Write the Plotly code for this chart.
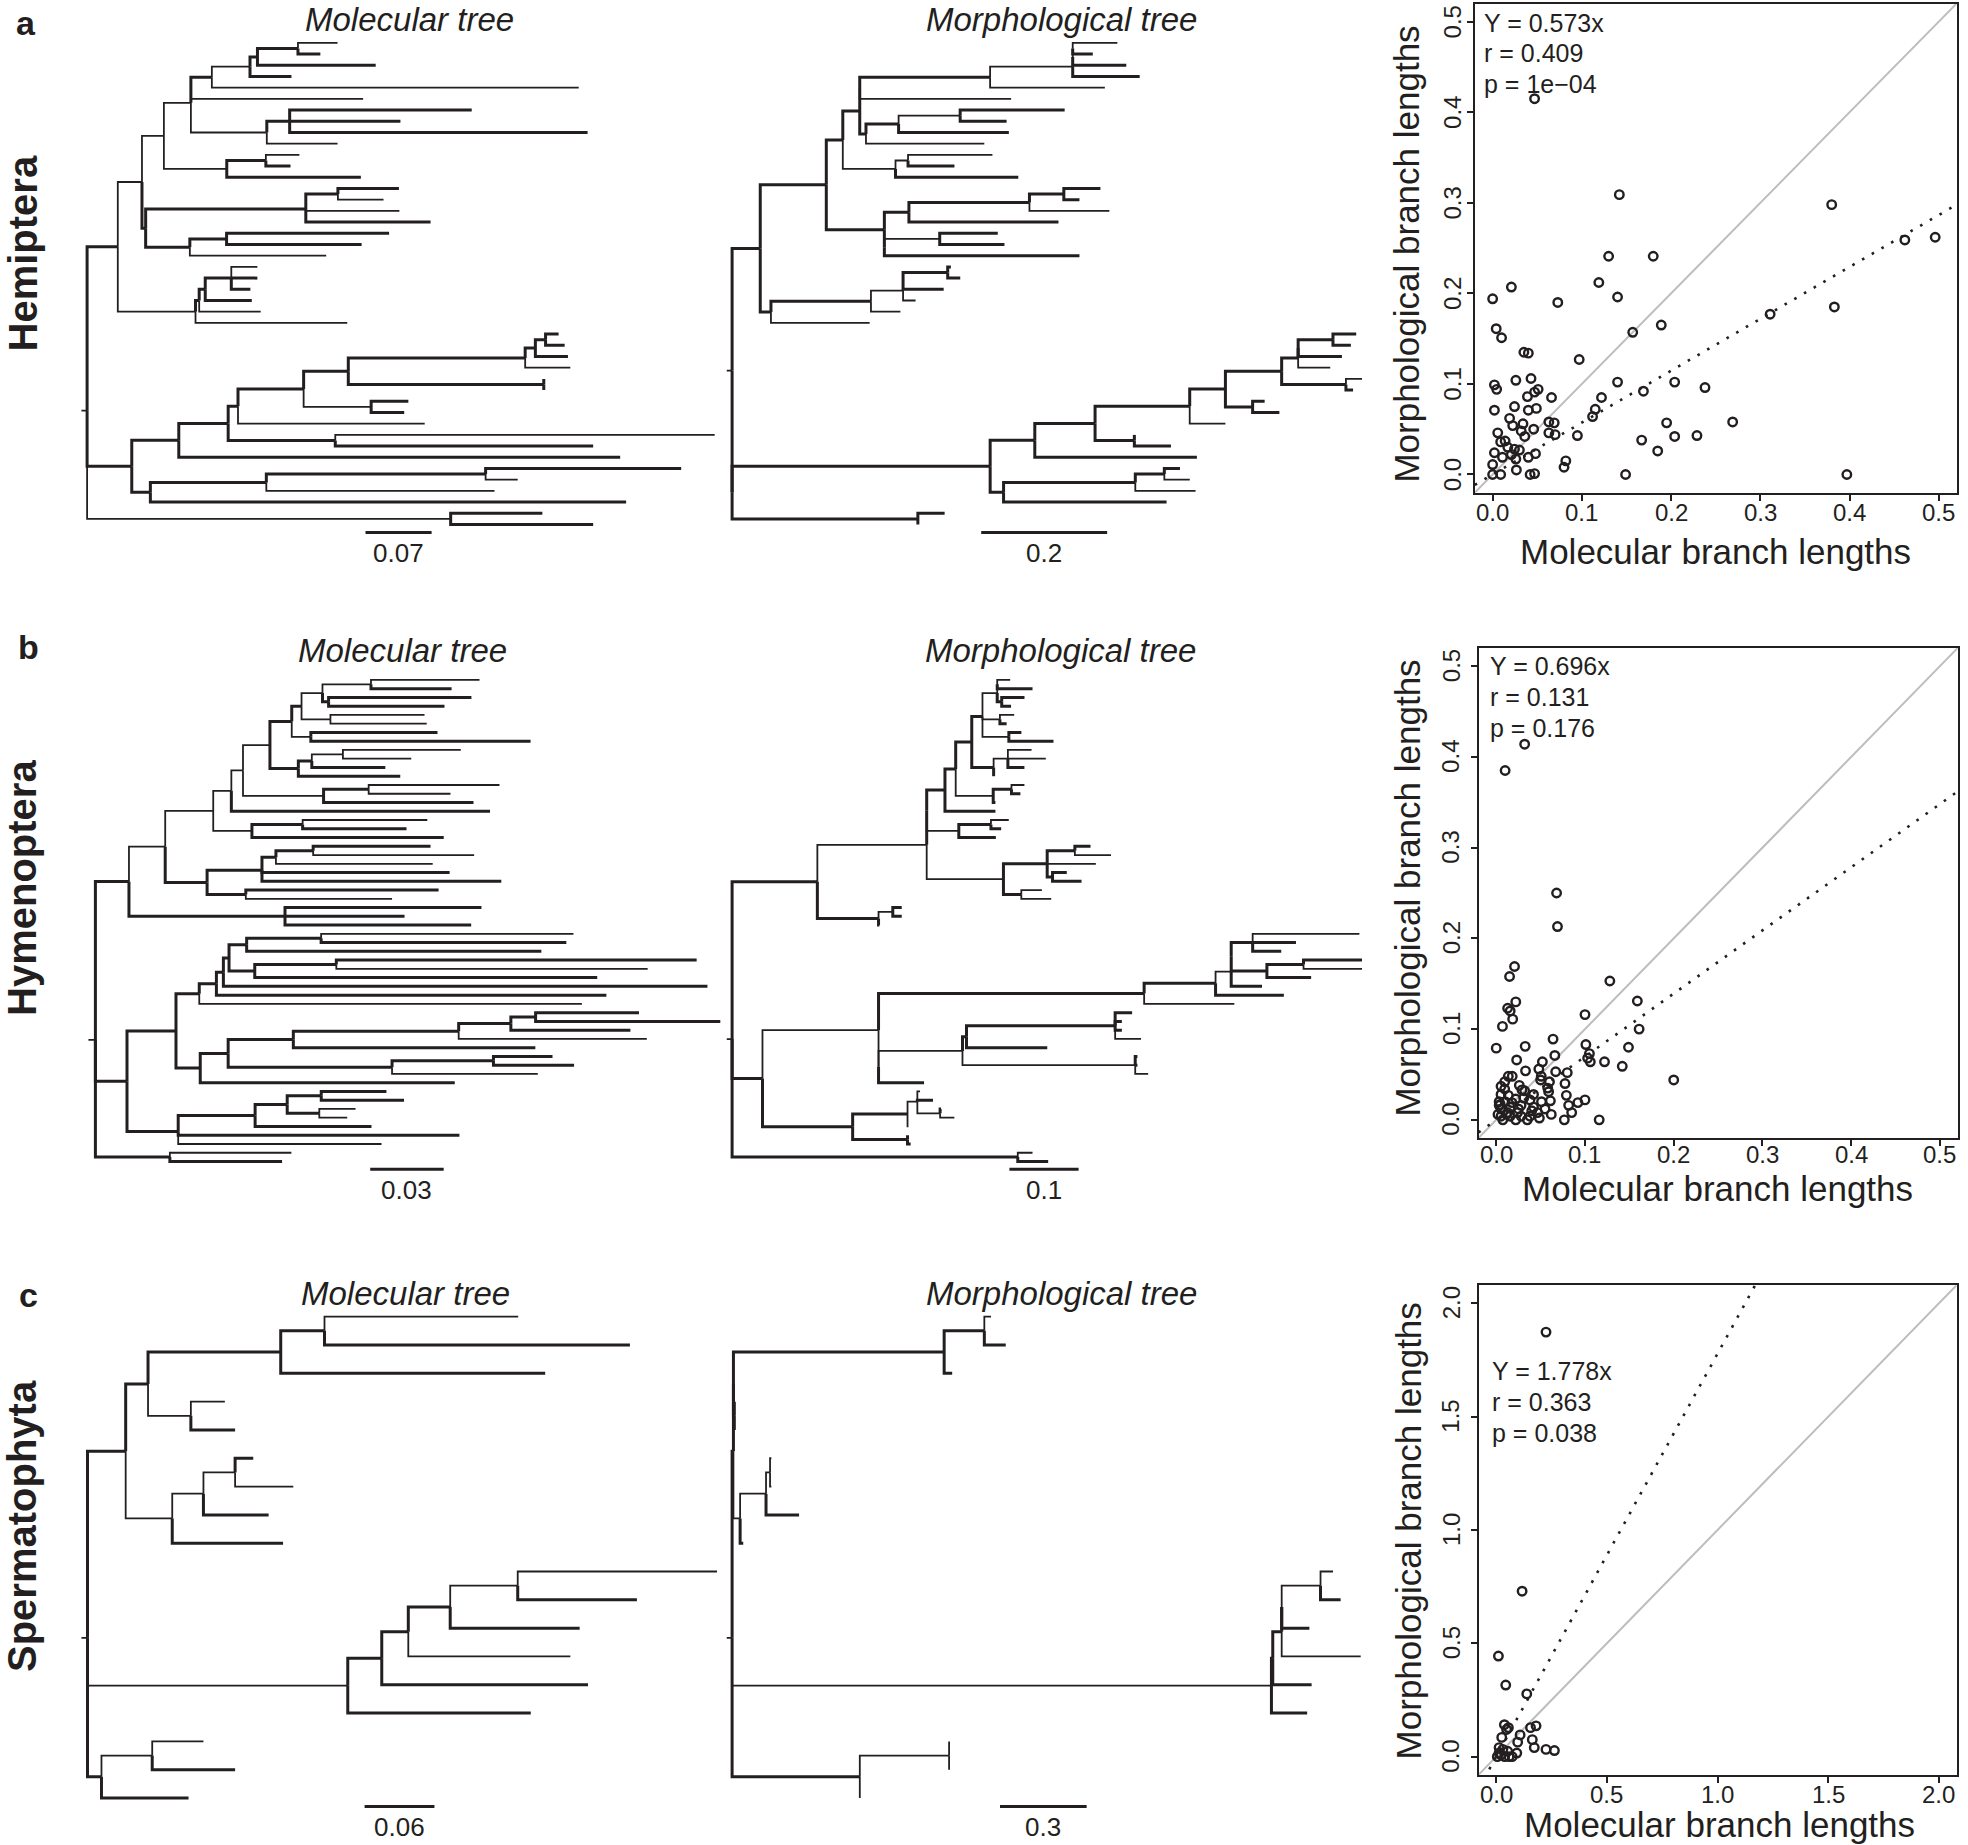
import plotly.graph_objects as go

W, H = 1968, 1845
FONT = "Liberation Sans, Arial, Helvetica, sans-serif"
INK = "#231f20"

# ------------------------------------------------------------------
# Tree data: (parent, child, branch length in 0.001 units, thick flag)
# child None = tip.  Children are listed in drawing order (top to bottom).
# ------------------------------------------------------------------
A_MOL_ROOT_EDGE = 6
A_MOL = [
    ("R", "A", 32.5, 1), ("R", "B", 47.3, 1), ("R", "C", 385, 0),
    ("A", "A1", 25.6, 0), ("A", "A2", 82.3, 0),
    ("A1", "A1a", 23.2, 0), ("A1", "A1b", 3.9, 1),
    ("A1a", "n410", 28.6, 0), ("A1a", "n487a", 66.6, 0),
    ("n410", "n455", 22.2, 1), ("n410", None, 182.4, 0), ("n410", "n573", 80.4, 0),
    ("n455", "n537", 40.4, 0), ("n455", None, 388.5, 0),
    ("n537", "n553", 7.9, 1), ("n537", None, 43.9, 1),
    ("n553", "n640", 42.9, 1), ("n553", None, 125.2, 1),
    ("n640", None, 41.9, 0), ("n640", None, 23.7, 1),
    ("n573", "n622", 24.2, 1), ("n573", None, 74.9, 0),
    ("n622", None, 192.8, 1), ("n622", None, 117.3, 1), ("n622", None, 315.5, 1),
    ("n487a", "n571", 41.4, 1), ("n487a", None, 142, 1),
    ("n571", None, 35.5, 0), ("n571", None, 26.1, 1),
    ("A1b", "n657", 169.6, 1), ("A1b", "n408", 46.8, 1),
    ("n657", "n726", 34, 1), ("n657", None, 99.1, 0), ("n657", None, 132.1, 1),
    ("n726", None, 64.6, 1), ("n726", None, 48.3, 0),
    ("n408", "n487b", 38.9, 1), ("n408", None, 144.4, 0),
    ("n487b", None, 172.1, 1), ("n487b", None, 143, 1),
    ("A2", "n428", 3.9, 1), ("A2", None, 160.7, 0),
    ("n428", "n441", 6.4, 1), ("n428", None, 65.1, 0),
    ("n441", "n497", 27.6, 1), ("n441", None, 49.3, 1),
    ("n497", None, 27.6, 0), ("n497", None, 27.6, 1), ("n497", None, 20.2, 1),
    ("B", "n384", 49.8, 1), ("B", "n323", 19.7, 1),
    ("n384", "n490", 52.3, 1), ("n384", None, 467.4, 1),
    ("n490", "n511", 10.4, 1), ("n490", "n720", 113.4, 1),
    ("n511", "n652", 69.5, 1), ("n511", None, 197.7, 0),
    ("n652", "n748", 47.3, 1), ("n652", "n797", 71.5, 0),
    ("n748", "n1128", 187.3, 1), ("n748", "n1168", 207, 1),
    ("n1128", "n1150", 10.8, 1), ("n1128", None, 47.8, 0),
    ("n1150", "n1172", 10.8, 1), ("n1150", None, 34.5, 1),
    ("n1172", None, 13.8, 1), ("n1172", None, 20.2, 1),
    ("n1168", None, 0, 1), ("n1168", None, 0, 1),
    ("n797", None, 39.4, 1), ("n797", None, 35, 1),
    ("n720", None, 401.8, 0), ("n720", None, 273.1, 1),
    ("n323", "n572", 122.8, 1), ("n323", None, 503.8, 1),
    ("n572", "n1043", 232.2, 1), ("n572", None, 241.6, 0),
    ("n1043", None, 207.1, 1), ("n1043", None, 34, 0),
    ("C", None, 97.1, 1), ("C", None, 150.9, 1),
]

A_MOR_ROOT_EDGE = 8.5
A_MOR = [
    ("R", "U", 44.7, 1), ("R", "Rin", 0, 1),
    ("U", "n283", 104.9, 1), ("U", "n159", 17, 1),
    ("n283", "n320", 26.2, 1), ("n283", "n413", 92.2, 1),
    ("n320", "n358", 26.9, 1), ("n320", "n438", 83.7, 0),
    ("n358", "in1", 0, 1), ("n358", "n372", 9.9, 1),
    ("in1", "n650", 207, 1), ("in1", None, 240.4, 0),
    ("n650", "i835a", 131.2, 0), ("n650", None, 182.2, 0),
    ("i835a", "i835b", 0, 0), ("i835a", None, 106.4, 1),
    ("i835b", "i835c", 0, 0), ("i835b", None, 85.1, 1),
    ("i835c", None, 70.9, 0), ("i835c", None, 31.9, 1),
    ("n372", "n445", 51.8, 1), ("n372", None, 187.9, 0),
    ("n445", "n583", 97.8, 0), ("n445", None, 175.1, 1),
    ("n583", None, 165.9, 1), ("n583", None, 73.7, 1),
    ("n438", "n466", 19.9, 0), ("n438", None, 195, 1),
    ("n466", None, 134, 0), ("n466", None, 73.7, 1),
    ("n413", "n468", 39, 1), ("n413", "in2", 0, 1),
    ("n468", "n738", 191.4, 1), ("n468", None, 237.5, 1),
    ("n738", "n815", 54.6, 1), ("n738", None, 126.9, 0),
    ("n815", None, 58.1, 1), ("n815", None, 24.8, 1),
    ("in2", "n537", 87.9, 0), ("in2", None, 309.8, 1),
    ("n537", None, 92.2, 1), ("n537", None, 102.8, 1),
    ("n159", "n383", 158.8, 1), ("n159", None, 156.7, 0),
    ("n383", "n455", 51, 0), ("n383", None, 46.8, 0),
    ("n455", "in3", 0, 0), ("n455", None, 19.9, 0),
    ("in3", "n555", 70.9, 1), ("in3", None, 64.5, 1),
    ("n555", None, 5, 1), ("n555", None, 19.9, 1),
    ("Rin", "n650b", 409.8, 1), ("Rin", "n488", 295, 1),
    ("n650b", "n750", 70.9, 1), ("n650b", "n680", 21.3, 1),
    ("n750", "n885", 95.7, 1), ("n750", None, 257.4, 1),
    ("n885", "n1097", 150.3, 1), ("n885", "n973", 62.4, 1),
    ("n1097", "n1177", 56.7, 1), ("n1097", None, 56.7, 0),
    ("n1177", "n1303", 89.3, 1), ("n1177", "n1238", 43.2, 1),
    ("n1303", "n1340", 26.2, 1), ("n1303", "n1447", 102.1, 1),
    ("n1340", "in4", 0, 1), ("n1340", None, 51, 0),
    ("in4", "n1418", 55.3, 1), ("in4", None, 69.5, 1),
    ("n1418", None, 36.9, 1), ("n1418", None, 28.4, 1),
    ("n1447", None, 25.5, 0), ("n1447", None, 11.3, 1),
    ("n1238", None, 19.1, 1), ("n1238", None, 42.5, 1),
    ("n973", None, 0, 1), ("n973", None, 58.1, 1),
    ("n680", "n975", 209.2, 1), ("n680", None, 258.8, 1),
    ("n975", "n1040", 46.1, 1), ("n975", None, 95.7, 0),
    ("n1040", None, 24.8, 1), ("n1040", None, 40.4, 0),
    ("n488", None, 42.5, 1), ("n488", None, 0, 1),
]

B_MOL_ROOT_EDGE = 2.85
B_MOL = [
    ("R", "n277", 13.7, 1), ("R", "n273", 12.9, 1), ("R", "n365", 30.4, 1),
    ("n277", "n355", 14.8, 0), ("n277", "n612", 63.7, 1),
    ("n355", "n458", 19.6, 0), ("n355", "n445", 17.1, 1),
    ("n458", "n497", 7.4, 0), ("n458", "n541", 15.8, 0),
    ("n497", "n522", 4.75, 0), ("n497", None, 105.6, 1),
    ("n522", "n580", 11, 0), ("n522", "n695", 32.9, 0),
    ("n580", "n627", 8.9, 1), ("n580", "n641", 11.6, 1),
    ("n627", "n648", 4, 1), ("n627", "n668", 7.8, 0),
    ("n648", "n693", 8.55, 0), ("n648", "n710", 11.8, 0),
    ("n693", "n797", 19.8, 0), ("n693", "n706", 2.5, 1),
    ("n797", None, 44.3, 0), ("n797", None, 32.9, 1),
    ("n706", None, 58.3, 1), ("n706", None, 47.3, 1),
    ("n710", None, 38.4, 0), ("n710", None, 39.3, 0),
    ("n668", None, 51.7, 1), ("n668", None, 89.7, 1),
    ("n641", "n670", 5.5, 1), ("n641", None, 41.6, 1),
    ("n670", "n737", 12.7, 0), ("n670", None, 30, 1),
    ("n737", None, 48.1, 0), ("n737", None, 27.9, 0),
    ("n695", "n792", 18.4, 1), ("n695", None, 61.2, 1),
    ("n792", None, 53.4, 0), ("n792", None, 33.4, 0),
    ("n541", "n650", 20.7, 1), ("n541", None, 78.3, 1),
    ("n650", None, 50.9, 0), ("n650", None, 42.4, 1),
    ("n445", "n563", 22.4, 1), ("n445", "n528", 15.8, 1),
    ("n563", "n593", 5.7, 1), ("n563", None, 76.6, 1), ("n563", None, 97.7, 1),
    ("n593", "n673", 15.2, 1), ("n593", None, 64, 0),
    ("n673", None, 47.9, 1), ("n673", None, 65.7, 0),
    ("n528", None, 78.7, 1), ("n528", None, 59.7, 0),
    ("n612", None, 80.2, 1), ("n612", None, 48.8, 1), ("n612", None, 76, 1),
    ("n273", "n378", 20, 1), ("n273", "n383", 20.9, 1),
    ("n378", "n428", 9.5, 1), ("n378", "n430", 9.9, 1),
    ("n428", "n465", 7, 1), ("n428", None, 156.2, 0),
    ("n465", "n480", 2.85, 1), ("n465", None, 159.2, 1),
    ("n480", "n492", 2.3, 1), ("n480", None, 197.6, 1),
    ("n492", "n530", 7.2, 1), ("n492", "n547", 10.5, 1),
    ("n530", "n690", 30.4, 1), ("n530", None, 120.3, 1),
    ("n690", None, 103, 0), ("n690", None, 100.1, 1),
    ("n547", "n722", 33.3, 1), ("n547", None, 139.8, 1),
    ("n722", None, 147.1, 1), ("n722", None, 127.1, 0),
    ("n430", "n490", 11.4, 1), ("n430", None, 103.9, 1),
    ("n490", "n630", 26.6, 1), ("n490", "n842", 66.9, 1),
    ("n630", "n985", 67.5, 1), ("n630", None, 98.8, 1),
    ("n985", "n1097", 21.3, 1), ("n985", None, 76.8, 0),
    ("n1097", "n1150", 10.1, 1), ("n1097", None, 48.8, 1),
    ("n1150", None, 42.2, 1), ("n1150", None, 75.4, 1),
    ("n842", "n1060", 41.4, 1), ("n842", None, 59.5, 0),
    ("n1060", None, 24.1, 1), ("n1060", None, 32.9, 1),
    ("n383", "n548", 31.4, 1), ("n383", None, 114.8, 1), ("n383", None, 83, 0),
    ("n548", "n617", 13.1, 1), ("n548", None, 47.5, 1),
    ("n617", "n690b", 13.9, 1), ("n617", "n686", 13.1, 1),
    ("n690b", None, 26.6, 1), ("n690b", None, 33.8, 1),
    ("n686", None, 14.8, 0), ("n686", None, 11.4, 0),
    ("n365", None, 49.6, 0), ("n365", None, 45.8, 1),
]

B_MOR_ROOT_EDGE = 7.7
B_MOR = [
    ("R", "n263", 123.2, 1), ("R", "n140", 43.9, 1), ("R", "n712", 412.8, 1),
    ("n263", "n508", 158, 0), ("n263", "n400", 88.4, 1),
    ("n508", "in1", 0, 1), ("n508", "n680", 110.9, 0),
    ("in1", "n549", 26.4, 1), ("in1", "n580", 46.4, 0),
    ("n549", "n573", 15.5, 1), ("n549", None, 72.9, 1),
    ("n573", "n609", 23.2, 1), ("n573", "n657", 54.2, 0),
    ("n609", "n633", 15.5, 1), ("n609", "n658", 31.6, 1),
    ("n633", "n666", 21.3, 0), ("n633", "n672", 25.2, 0), ("n633", "n692", 38.1, 0),
    ("n666", "in666", 0, 0), ("n666", "n676", 6.5, 1),
    ("in666", None, 18.7, 0), ("in666", None, 51, 1),
    ("n676", None, 32.9, 1), ("n676", None, 13.5, 1),
    ("n672", None, 20.6, 0), ("n672", None, 9.7, 1),
    ("n692", None, 18.1, 1), ("n692", None, 64.5, 1),
    ("n658", "n690", 20.6, 0), ("n658", None, 0, 1),
    ("n690", None, 34.2, 0), ("n690", None, 54.8, 0), ("n690", None, 23.9, 1),
    ("n657", "n698", 26.4, 1), ("n657", None, 3.2, 1),
    ("n698", None, 18.7, 0), ("n698", None, 12.9, 1),
    ("n580", "n652", 46.4, 1), ("n580", None, 53.5, 1),
    ("n652", None, 25.8, 0), ("n652", None, 14.8, 1),
    ("n680", "n778", 63.2, 1), ("n680", "n720", 25.8, 1),
    ("n778", "n840", 40, 1), ("n778", None, 70.3, 0), ("n778", "n790", 7.7, 1),
    ("n840", None, 22.6, 1), ("n840", None, 52.2, 0),
    ("n790", None, 20.6, 1), ("n790", None, 41.9, 1),
    ("n720", None, 29.7, 0), ("n720", None, 43.2, 0),
    ("n400", "n432", 20.6, 0), ("n400", None, 1.3, 1),
    ("n432", None, 12.9, 1), ("n432", None, 12.9, 1),
    ("n140", "n400b", 167.7, 0), ("n140", "n342", 130.3, 1),
    ("n400b", "n995", 383.8, 1), ("n400b", "in2", 0, 0),
    ("n995", "n1155", 103.2, 1), ("n995", None, 130.3, 0),
    ("n1155", "n1190", 22.6, 0), ("n1155", None, 98.7, 1),
    ("n1190", "in3", 0, 0), ("n1190", None, 44.5, 1),
    ("in3", "n1238", 31, 1), ("in3", "n1270", 51.6, 1),
    ("n1238", None, 154.2, 0), ("n1238", None, 62.6, 1), ("n1238", None, 41.3, 1),
    ("n1270", "n1352", 52.9, 1), ("n1270", None, 63.9, 1),
    ("n1352", None, 84.5, 1), ("n1352", None, 84.5, 0),
    ("in2", "n588", 121.3, 0), ("in2", None, 65.8, 1),
    ("n588", "n597", 5.8, 1), ("n588", "n975", 249.6, 0),
    ("n597", "n930", 214.8, 1), ("n597", None, 116.7, 1),
    ("n930", None, 24.5, 1), ("n930", None, 9.7, 1), ("n930", None, 9.7, 1), ("n930", None, 37.4, 0),
    ("n975", None, 3.2, 1), ("n975", None, 3.2, 1), ("n975", None, 18.7, 0),
    ("n342", "n465", 79.3, 1), ("n342", "n465b", 79.3, 1),
    ("n465", "n487", 14.2, 0), ("n465", None, 1.3, 0),
    ("n487", None, 3.9, 0), ("n487", None, 22.6, 1), ("n487", "n538", 32.9, 0),
    ("n538", None, 1.3, 1), ("n538", None, 20.6, 0),
    ("n465b", None, 0, 1), ("n465b", None, 4.5, 1),
    ("n712", None, 21.3, 0), ("n712", None, 43.9, 1),
]

C_MOL_ROOT_EDGE = 5.2
C_MOL = [
    ("R", "n270", 32.8, 1), ("R", "n747", 223.6, 0), ("R", "n218", 12, 1),
    ("n270", "n318", 19.2, 1), ("n270", "n370", 40, 0),
    ("n318", "n603", 114, 1), ("n318", "n410", 36.8, 0),
    ("n603", "n697", 37.6, 1), ("n603", None, 227.2, 1),
    ("n697", None, 166.4, 0), ("n697", None, 262.4, 1),
    ("n410", None, 29.2, 0), ("n410", None, 38, 1),
    ("n370", "n437", 26.8, 0), ("n370", None, 95.2, 1),
    ("n437", "n505", 27.2, 0), ("n437", None, 56, 1),
    ("n505", None, 15.6, 1), ("n505", None, 50, 0),
    ("n747", "n820", 29.2, 1), ("n747", None, 157.2, 1),
    ("n820", "n877", 22.8, 1), ("n820", None, 177.2, 1),
    ("n877", "n967", 36, 1), ("n877", None, 139.2, 0),
    ("n967", "n1112", 58, 0), ("n967", None, 111.2, 1),
    ("n1112", None, 171.2, 0), ("n1112", None, 102.4, 1),
    ("n218", "n327", 43.6, 0), ("n218", None, 74.8, 1),
    ("n327", None, 44, 0), ("n327", None, 71.2, 1),
]

C_MOR_ROOT_EDGE = 18.6
C_MOR = [
    ("R", "n270", 4.6, 1), ("R", "n747", 1867.6, 0), ("R", "n218", 442.2, 1),
    ("n270", "n318", 0, 1), ("n270", "n370", 23.2, 0),
    ("n318", "n547", 729.7, 1), ("n318", "n410", 3.1, 1),
    ("n547", "n637", 139.1, 1), ("n547", None, 27.8, 1),
    ("n637", None, 23.2, 0), ("n637", None, 74.2, 1),
    ("n410", None, 0, 1), ("n410", None, 0, 1),
    ("n370", "n148", 89.7, 0), ("n370", None, 10.8, 1),
    ("n148", "n157", 13.9, 0), ("n148", None, 114.4, 1),
    ("n157", None, 4.6, 0), ("n157", None, 4.6, 0),
    ("n747", "n820", 4.6, 1), ("n747", None, 123.7, 1),
    ("n820", "n877", 30.9, 1), ("n820", None, 134.5, 1),
    ("n877", "n967", 0, 1), ("n877", None, 273.6, 0),
    ("n967", "n1112", 134.5, 0), ("n967", None, 95.9, 1),
    ("n1112", None, 43.3, 0), ("n1112", None, 69.6, 1),
    ("n218", "n327", 309.2, 0), ("n218", None, 0, 0),
    ("n327", None, 0, 0), ("n327", None, 0, 0),
]

SCALE_BARS = [0.07, 0.2, 0.03, 0.1, 0.06, 0.3]
SCALE_LABELS = ["0.07", "0.2", "0.03", "0.1", "0.06", "0.3"]

# ------------------------------------------------------------------
# Scatter data (molecular vs morphological branch lengths)
# ------------------------------------------------------------------
SA_X = [0.047, 0.142, 0.380, 0.462, 0.496, 0.130, 0.180, 0.119, 0.021, 0.000,
        0.073, 0.140, 0.383, 0.189, 0.311, 0.157, 0.004, 0.010, 0.035, 0.040,
        0.097, 0.002, 0.0045, 0.026, 0.043, 0.051, 0.047, 0.039, 0.066, 0.140,
        0.204, 0.238, 0.169, 0.122, 0.002, 0.0245, 0.040, 0.049, 0.019, 0.115,
        0.112, 0.063, 0.069, 0.269, 0.195, 0.0225, 0.034, 0.0057, 0.032, 0.046,
        0.063, 0.070, 0.095, 0.204, 0.229, 0.167, 0.009, 0.014, 0.036, 0.002,
        0.017, 0.0245, 0.030, 0.048, 0.185, 0.026, 0.040, 0.011, 0.082, 0.080,
        0.000, 0.000, 0.009, 0.0266, 0.042, 0.047, 0.149, 0.397, 0.021]
SA_Y = [0.415, 0.309, 0.298, 0.259, 0.262, 0.241, 0.241, 0.212, 0.207, 0.194,
        0.190, 0.196, 0.185, 0.165, 0.177, 0.157, 0.161, 0.151, 0.135, 0.134,
        0.127, 0.099, 0.094, 0.104, 0.106, 0.094, 0.091, 0.086, 0.085, 0.102,
        0.102, 0.096, 0.092, 0.085, 0.071, 0.075, 0.071, 0.073, 0.062, 0.072,
        0.064, 0.058, 0.057, 0.058, 0.057, 0.054, 0.056, 0.046, 0.048, 0.050,
        0.046, 0.044, 0.043, 0.042, 0.043, 0.038, 0.036, 0.037, 0.042, 0.024,
        0.030, 0.028, 0.027, 0.023, 0.026, 0.017, 0.019, 0.019, 0.015, 0.008,
        0.011, 0.000, 0.000, 0.005, 0.000, 0.001, 0.000, 0.000, 0.022]

SB_X = [0.032, 0.010, 0.068, 0.069, 0.0206, 0.015, 0.128, 0.022, 0.0128, 0.0157,
        0.0185, 0.007, 0.159, 0.100, 0.161, 0.000, 0.0326, 0.064, 0.101, 0.149,
        0.066, 0.105, 0.103, 0.106, 0.023, 0.052, 0.122, 0.142, 0.200, 0.033,
        0.048, 0.067, 0.080, 0.018, 0.0095, 0.050, 0.060, 0.0775, 0.029, 0.059,
        0.079, 0.0054, 0.0136, 0.0033, 0.022, 0.038, 0.051, 0.061, 0.100, 0.092,
        0.0054, 0.0157, 0.028, 0.042, 0.0816, 0.002, 0.0115, 0.024, 0.0466, 0.062,
        0.085, 0.0074, 0.022, 0.035, 0.0486, 0.0767, 0.116, 0.0045, 0.010, 0.031,
        0.042, 0.0095, 0.0054, 0.026, 0.0128, 0.040, 0.028, 0.0157, 0.055, 0.038,
        0.0033, 0.0177, 0.032, 0.0507, 0.0136, 0.058, 0.025, 0.0054]
SB_Y = [0.414, 0.385, 0.250, 0.213, 0.169, 0.158, 0.153, 0.130, 0.123, 0.120,
        0.111, 0.103, 0.131, 0.116, 0.100, 0.079, 0.081, 0.089, 0.083, 0.080,
        0.071, 0.073, 0.068, 0.064, 0.066, 0.064, 0.064, 0.059, 0.044, 0.054,
        0.056, 0.053, 0.052, 0.048, 0.042, 0.044, 0.042, 0.040, 0.033, 0.031,
        0.027, 0.028, 0.027, 0.020, 0.023, 0.022, 0.020, 0.021, 0.022, 0.019,
        0.012, 0.014, 0.016, 0.014, 0.016, 0.006, 0.006, 0.008, 0.008, 0.006,
        0.008, 0.000, 0.000, 0.000, 0.002, 0.000, 0.000, 0.017, 0.020, 0.024,
        0.028, 0.034, 0.037, 0.038, 0.008, 0.010, 0.004, 0.004, 0.012, 0.004,
        0.016, 0.019, 0.032, 0.048, 0.048, 0.035, 0.012, 0.004]

SC_X = [0.225, 0.117, 0.010, 0.043, 0.138, 0.037, 0.055, 0.155, 0.180, 0.108,
        0.025, 0.163, 0.097, 0.172, 0.225, 0.263, 0.093, 0.072, 0.013, 0.005,
        0.022, 0.038, 0.052, 0.030, 0.013, 0.058, 0.047]
SC_Y = [1.873, 0.730, 0.444, 0.316, 0.277, 0.141, 0.128, 0.128, 0.136, 0.096,
        0.085, 0.075, 0.064, 0.040, 0.032, 0.027, 0.016, 0.000, 0.040, 0.000,
        0.008, 0.000, 0.024, 0.032, 0.016, 0.000, 0.120]

SLOPES = [0.573, 0.696, 1.778]
STATS = [["Y = 0.573x", "r = 0.409", "p = 1e\u221204"],
         ["Y = 0.696x", "r = 0.131", "p = 0.176"],
         ["Y = 1.778x", "r = 0.363", "p = 0.038"]]
AX_TICKS_AB = [0.0, 0.1, 0.2, 0.3, 0.4, 0.5]
AX_TICKS_C = [0.0, 0.5, 1.0, 1.5, 2.0]
GROUPS = ["Hemiptera", "Hymenoptera", "Spermatophyta"]
LETTERS = ["a", "b", "c"]

# ------------------------------------------------------------------
UNIT = 0.001
THICK_W, THIN_W = 3.0, 1.8


def fx(px):
    return px / W


def fy(py):
    return 1 - py / H


def build_tree(edges, root_edge):
    def new():
        return {"kids": [], "len": 0.0, "thick": False}
    nodes = {"R": new()}
    nodes["R"]["len"] = root_edge * UNIT
    for parent, child, length, thick in edges:
        if parent not in nodes:
            nodes[parent] = new()
        p = nodes[parent]
        if child is None:
            c = new()
        else:
            if child not in nodes:
                nodes[child] = new()
            c = nodes[child]
        c["len"] = length * UNIT
        c["thick"] = bool(thick)
        p["kids"].append(c)
    return nodes["R"]


def layout(root):
    tips = []

    def walk(n, x):
        n["x"] = x
        if not n["kids"]:
            n["y"] = float(len(tips))
            tips.append(n)
        else:
            for k in n["kids"]:
                walk(k, x + k["len"])
            n["y"] = sum(k["y"] for k in n["kids"]) / len(n["kids"])
    walk(root, 0.0)
    return len(tips), max(t["x"] for t in tips)


fig = go.Figure()
annotations = []
layout_axes = {}


def ax_names(k):
    return ("xaxis" if k == 1 else f"xaxis{k}",
            "yaxis" if k == 1 else f"yaxis{k}",
            "x" if k == 1 else f"x{k}",
            "y" if k == 1 else f"y{k}")


def add_tree(k, edges, root_edge, geom, bar_len, bar_label, bar_geom):
    root = build_tree(edges, root_edge)
    ntip, depth = layout(root)
    x0, x1, y0, y1 = geom
    bar_start_px, bar_y_px, label_y_px = bar_geom
    upx = depth / (x1 - x0)
    tpx = (ntip - 1) / (y1 - y0)
    L, R, T, B = x0 - 24, x1 + 14, y0 - 14, bar_y_px + 14
    xa, ya, xr, yr = ax_names(k)
    layout_axes[xa] = dict(domain=[fx(L), fx(R)], range=[(L - x0) * upx, (R - x0) * upx],
                           visible=False, fixedrange=True, anchor=yr)
    layout_axes[ya] = dict(domain=[fy(B), fy(T)], range=[(B - y0) * tpx, (T - y0) * tpx],
                           visible=False, fixedrange=True, anchor=xr)
    segs = {True: ([], []), False: ([], [])}

    def walk(n):
        for c in n["kids"]:
            xs, ys = segs[c["thick"]]
            xs += [n["x"], n["x"], c["x"], None]
            ys += [n["y"], c["y"], c["y"], None]
            walk(c)
    walk(root)
    xs, ys = segs[False]
    xs += [-root["len"], 0.0, None]
    ys += [root["y"], root["y"], None]
    for thick, (xs, ys) in segs.items():
        fig.add_trace(go.Scatter(x=xs, y=ys, mode="lines", xaxis=xr, yaxis=yr,
                                 line=dict(color=INK, width=THICK_W if thick else THIN_W),
                                 hoverinfo="skip", showlegend=False))
    bx0 = (bar_start_px - x0) * upx
    by = (bar_y_px - y0) * tpx
    fig.add_trace(go.Scatter(x=[bx0, bx0 + bar_len], y=[by, by], mode="lines",
                             xaxis=xr, yaxis=yr, line=dict(color=INK, width=THICK_W),
                             hoverinfo="skip", showlegend=False))
    cx = bar_start_px + (bar_len / upx) / 2
    annotations.append(dict(text=bar_label, x=fx(cx), y=fy(label_y_px), xref="paper", yref="paper",
                            xanchor="center", yanchor="middle", showarrow=False,
                            font=dict(size=26, family=FONT, color=INK)))


def add_scatter(k, xs, ys, box, rng, ticks, slope, stats, stats_px, xt_px, yt_px, tick_px):
    L, R, T, B = box
    xa, ya, xr, yr = ax_names(k)
    common = dict(range=rng, tickvals=ticks, showticklabels=False,
                  ticks="outside", ticklen=6, tickwidth=1.5, tickcolor=INK,
                  showline=True, mirror=True, linecolor=INK, linewidth=1.8,
                  showgrid=False, zeroline=False, fixedrange=True)
    layout_axes[xa] = dict(domain=[fx(L), fx(R)], anchor=yr, **common)
    layout_axes[ya] = dict(domain=[fy(B), fy(T)], anchor=xr, **common)
    fig.add_trace(go.Scatter(x=rng, y=rng, mode="lines", xaxis=xr, yaxis=yr,
                             line=dict(color="#bdbdbd", width=2.0),
                             hoverinfo="skip", showlegend=False))
    fig.add_trace(go.Scatter(x=rng, y=[slope * rng[0], slope * rng[1]], mode="lines",
                             xaxis=xr, yaxis=yr,
                             line=dict(color=INK, width=2.6, dash="2.6px,8.6px"),
                             hoverinfo="skip", showlegend=False))
    fig.add_trace(go.Scatter(x=xs, y=ys, mode="markers", xaxis=xr, yaxis=yr,
                             marker=dict(symbol="circle-open", size=8.5, color=INK,
                                         line=dict(width=2.4, color=INK)),
                             hoverinfo="skip", showlegend=False))
    xlab_y, ylab_x = tick_px
    for t in ticks:
        annotations.append(dict(text=f"{t:.1f}", x=t, xref=xr, y=fy(xlab_y), yref="paper",
                                xanchor="center", yanchor="middle", showarrow=False,
                                font=dict(size=24, family=FONT, color=INK)))
        annotations.append(dict(text=f"{t:.1f}", y=t, yref=yr, x=fx(ylab_x), xref="paper",
                                xanchor="center", yanchor="middle", textangle=-90, showarrow=False,
                                font=dict(size=24, family=FONT, color=INK)))
    sx, sy0, dy = stats_px
    for i, s in enumerate(stats):
        annotations.append(dict(text=s, x=fx(sx), y=fy(sy0 + i * dy), xref="paper", yref="paper",
                                xanchor="left", yanchor="middle", showarrow=False,
                                font=dict(size=25, family=FONT, color=INK)))
    annotations.append(dict(text="Molecular branch lengths", x=fx(xt_px[0]), y=fy(xt_px[1]),
                            xref="paper", yref="paper", xanchor="center", yanchor="middle",
                            showarrow=False, font=dict(size=35, family=FONT, color=INK)))
    annotations.append(dict(text="Morphological branch lengths", x=fx(yt_px[0]), y=fy(yt_px[1]),
                            xref="paper", yref="paper", xanchor="center", yanchor="middle",
                            textangle=-90, showarrow=False,
                            font=dict(size=35, family=FONT, color=INK)))


# trees: geometry = (root x, deepest tip x, first tip y, last tip y) in pixels
add_tree(1, A_MOL, A_MOL_ROOT_EDGE, (87.1, 714.7, 42.9, 524.5), SCALE_BARS[0], SCALE_LABELS[0],
         (365.5, 532.5, 552.5))
add_tree(2, A_MOR, A_MOR_ROOT_EDGE, (732.1, 1362.0, 42.9, 524.5), SCALE_BARS[1], SCALE_LABELS[1],
         (981.2, 532.5, 552.5))
add_tree(3, B_MOL, B_MOL_ROOT_EDGE, (95.4, 720.3, 679.9, 1161.5), SCALE_BARS[2], SCALE_LABELS[2],
         (370.2, 1169.3, 1190.4))
add_tree(4, B_MOR, B_MOR_ROOT_EDGE, (732.1, 1362.0, 679.9, 1161.5), SCALE_BARS[3], SCALE_LABELS[3],
         (1009.4, 1169.3, 1190.4))
add_tree(5, C_MOL, C_MOL_ROOT_EDGE, (87.5, 717.0, 1316.7, 1798.0), SCALE_BARS[4], SCALE_LABELS[4],
         (364.6, 1806.6, 1827.0))
add_tree(6, C_MOR, C_MOR_ROOT_EDGE, (732.1, 1360.7, 1316.7, 1798.0), SCALE_BARS[5], SCALE_LABELS[5],
         (1000.0, 1806.6, 1827.0))

add_scatter(7, SA_X, SA_Y, (1474.8, 1956.6, 3.6, 492.6), [-0.02, 0.52], AX_TICKS_AB, SLOPES[0],
            STATS[0], (1482.2, 22.5, 30.9), (1715, 551.5), (1406.6, 254), (512.0, 1452.7))
add_scatter(8, SB_X, SB_Y, (1478.5, 1957.7, 648.0, 1138.0), [-0.02, 0.52], AX_TICKS_AB, SLOPES[1],
            STATS[1], (1487.7, 666.2, 31.0), (1717, 1188.0), (1406.6, 888), (1154.0, 1451.0))
add_scatter(9, SC_X, SC_Y, (1478.5, 1956.6, 1285.2, 1774.8), [-0.08, 2.08], AX_TICKS_C, SLOPES[2],
            STATS[2], (1489.5, 1371.3, 30.9), (1719, 1824), (1408.4, 1531), (1794.0, 1451.0))

# titles and labels
title_pos = [((409.7, 19.5), (1061.6, 19.5)), ((402.7, 650.3), (1060.7, 650.3)),
             ((405.0, 1293.6), (1061.6, 1293.6))]
for (m, p) in title_pos:
    for txt, (x, y) in (("Molecular tree", m), ("Morphological tree", p)):
        annotations.append(dict(text=f"<i>{txt}</i>", x=fx(x), y=fy(y), xref="paper", yref="paper",
                                xanchor="center", yanchor="middle", showarrow=False,
                                font=dict(size=33, family=FONT, color=INK)))
for letter, (x, y) in zip(LETTERS, [(25.6, 23.0), (28.0, 646.6), (28.0, 1295.4)]):
    annotations.append(dict(text=f"<b>{letter}</b>", x=fx(x), y=fy(y), xref="paper", yref="paper",
                            xanchor="center", yanchor="middle", showarrow=False,
                            font=dict(size=34, family=FONT, color=INK)))
for g, (x, y) in zip(GROUPS, [(22, 253.5), (22, 888), (22, 1526)]):
    annotations.append(dict(text=f"<b>{g}</b>", x=fx(x), y=fy(y), xref="paper", yref="paper",
                            xanchor="center", yanchor="middle", textangle=-90, showarrow=False,
                            font=dict(size=40, family=FONT, color=INK)))

fig.update_layout(width=W, height=H, autosize=False, margin=dict(l=0, r=0, t=0, b=0),
                  paper_bgcolor="white", plot_bgcolor="rgba(0,0,0,0)", showlegend=False,
                  annotations=annotations, **layout_axes)

fig.write_html("out.html", config={"displayModeBar": False},
               post_script="document.body.style.margin='0';")
